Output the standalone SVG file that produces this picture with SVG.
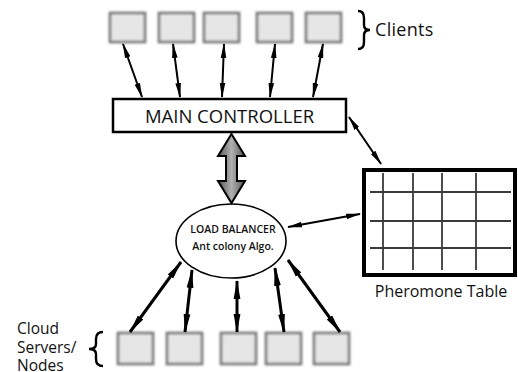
<svg xmlns="http://www.w3.org/2000/svg" width="518" height="372" viewBox="0 0 518 372">
<style>
.box{fill:#e6e6e6;stroke:#7e7e7e;stroke-width:2.8;filter:url(#soft)}
.lbl{font-family:"Open Sans","Liberation Sans",sans-serif;fill:#111}
.arr{stroke:#000;stroke-width:2;fill:none;marker-start:url(#ah);marker-end:url(#ah)}
.arrb{stroke:#000;stroke-width:3;fill:none;marker-start:url(#ah2);marker-end:url(#ah2)}
.grid{stroke:#3a3a3a;stroke-width:1.8}
.brace{fill:none;stroke:#000;stroke-width:2.4}
</style>
<defs>
<filter id="soft" x="-20%" y="-20%" width="140%" height="140%"><feGaussianBlur stdDeviation="0.9"/></filter>
<marker id="ah" markerUnits="userSpaceOnUse" markerWidth="15" markerHeight="7" refX="14" refY="3.5" orient="auto-start-reverse"><path d="M0,0.7 L15,3.5 L0,6.3 z" fill="#000"/></marker>
<marker id="ah2" markerUnits="userSpaceOnUse" markerWidth="19" markerHeight="8" refX="18" refY="4" orient="auto-start-reverse"><path d="M0,0.6 L19,4 L0,7.4 z" fill="#000"/></marker>
<linearGradient id="bigg" x1="0" y1="0" x2="1" y2="0"><stop offset="0" stop-color="#555"/><stop offset="0.5" stop-color="#b0b0b0"/><stop offset="1" stop-color="#555"/></linearGradient>
</defs>
<rect width="518" height="372" fill="#fff"/>

<g id="clients">
<rect class="box" x="110" y="13" width="35" height="29"/>
<rect class="box" x="159" y="13" width="35" height="29"/>
<rect class="box" x="204" y="13" width="35" height="29"/>
<rect class="box" x="257" y="13" width="35" height="29"/>
<rect class="box" x="306" y="13" width="35" height="29"/>
<path class="brace" d="M358,11 Q364,11 364,18 L364,25 Q364,30 370,30 Q364,30 364,35 L364,42 Q364,49 358,49"/>
<text class="lbl" x="375" y="36" font-size="18" letter-spacing="0.3">Clients</text>
</g>

<g id="main-controller">
<rect x="113" y="99" width="233" height="33" fill="#fff" stroke="#000" stroke-width="2.5"/>
<text class="lbl" x="229.5" y="123" font-size="18.5" text-anchor="middle">MAIN CONTROLLER</text>
</g>

<g id="load-balancer">
<ellipse cx="231" cy="241" rx="55" ry="37" fill="#fff" stroke="#000" stroke-width="1.6"/>
<text class="lbl" x="233" y="233" font-size="10.5" font-weight="600" text-anchor="middle">LOAD BALANCER</text>
<text class="lbl" x="233" y="250" font-size="10.5" font-weight="600" text-anchor="middle">Ant colony Algo.</text>
</g>

<g id="pheromone-table">
<rect x="364" y="170" width="151" height="105" fill="#fff" stroke="#000" stroke-width="4"/>
<line class="grid" x1="383" y1="173" x2="383" y2="270"/>
<line class="grid" x1="413" y1="173" x2="413" y2="270"/>
<line class="grid" x1="442" y1="173" x2="442" y2="270"/>
<line class="grid" x1="476" y1="173" x2="476" y2="270"/>
<line class="grid" x1="370" y1="192" x2="511" y2="192"/>
<line class="grid" x1="370" y1="221" x2="511" y2="221"/>
<line class="grid" x1="370" y1="248" x2="511" y2="248"/>
<text class="lbl" x="441" y="297" font-size="16" text-anchor="middle">Pheromone Table</text>
</g>

<g id="servers">
<rect class="box" x="118" y="333" width="35" height="31"/>
<rect class="box" x="167" y="333" width="35" height="31"/>
<rect class="box" x="221" y="333" width="35" height="31"/>
<rect class="box" x="266" y="333" width="35" height="31"/>
<rect class="box" x="314" y="333" width="35" height="31"/>
<path class="brace" d="M103,332 Q96,332 96,339 L96,344 Q96,349 89,349 Q96,349 96,354 L96,359 Q96,366 103,366"/>
<text class="lbl" font-size="15.5"><tspan x="17" y="334">Cloud</tspan><tspan x="17" y="352.5">Servers/</tspan><tspan x="17" y="370.5">Nodes</tspan></text>
</g>

<g id="connectors">
<line class="arr" x1="123" y1="44" x2="142" y2="97"/>
<line class="arr" x1="173" y1="44" x2="180" y2="97"/>
<line class="arr" x1="224" y1="44" x2="222" y2="97"/>
<line class="arr" x1="275" y1="44" x2="270" y2="97"/>
<line class="arr" x1="323" y1="44" x2="313" y2="97"/>
<line class="arr" x1="349" y1="117" x2="381" y2="164"/>
<line class="arr" x1="288" y1="227" x2="360" y2="214"/>
<line class="arrb" x1="181" y1="262" x2="130" y2="332"/>
<line class="arrb" x1="192" y1="270" x2="185" y2="332" stroke-width="2.4"/>
<line class="arrb" x1="237" y1="281" x2="237" y2="332" stroke-width="2.2"/>
<line class="arrb" x1="275" y1="268" x2="284" y2="332" stroke-width="2.6"/>
<line class="arrb" x1="288" y1="260" x2="340" y2="332"/>
<path d="M231.5,134 L245,156 L237,156 L237,181 L245,181 L231.5,203 L218,181 L226,181 L226,156 L218,156 z" fill="url(#bigg)" stroke="#000" stroke-width="2" stroke-linejoin="miter"/>
</g>
</svg>
